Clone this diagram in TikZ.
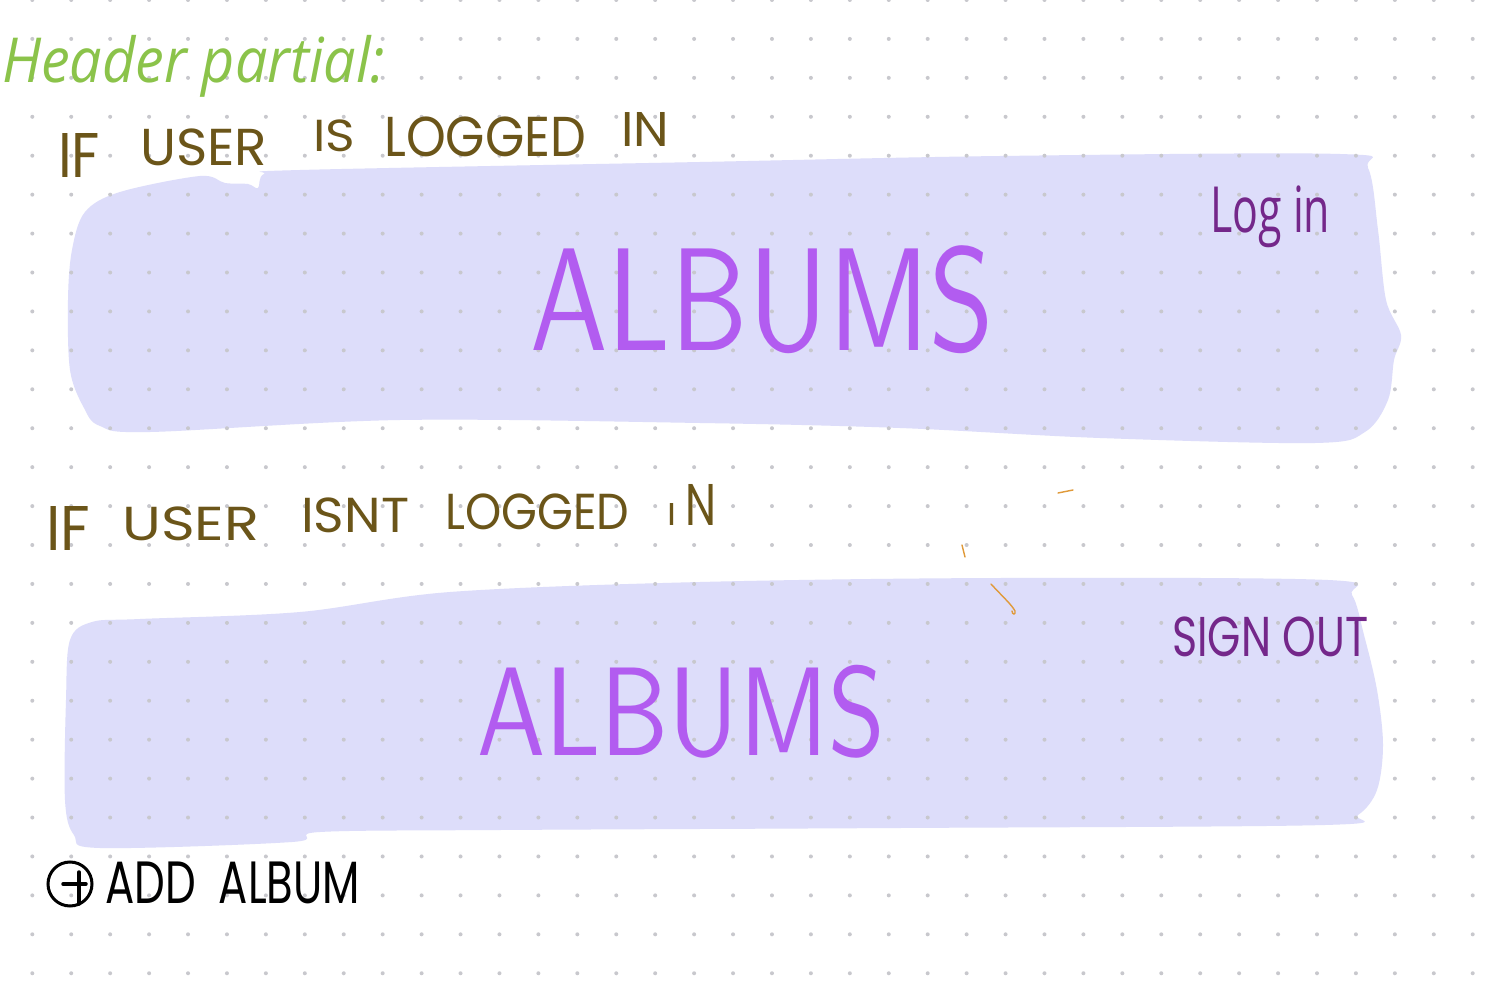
\documentclass[tikz,border=0pt]{standalone}
\usepackage{fontspec}
\usepackage{graphicx}
\newfontfamily\handfont{Poppins}
\newfontfamily\cursivefont{Open Sans}
\definecolor{blob}{RGB}{221,221,250}
\definecolor{griddot}{RGB}{200,200,205}
\definecolor{hdrgreen}{RGB}{139,195,74}
\definecolor{olive}{RGB}{107,85,25}
\definecolor{violet}{RGB}{178,92,240}
\definecolor{plum}{RGB}{116,39,138}
\definecolor{orangestroke}{RGB}{224,154,58}
\newcommand{\fitbox}[3]{\resizebox*{#1}{#2}{#3}}
\tikzset{
  blobfill/.style={fill=blob, draw=none},
  txt/.style={inner sep=0pt, anchor=north west},
  cond/.style={txt, text=olive, font=\handfont},
  orangeline/.style={draw=orangestroke, line width=1.4pt, line cap=round}
}
\begin{document}
\begin{tikzpicture}[x=1pt,y=-1pt]
\useasboundingbox (0,0) rectangle (1497,992);
\fill[white] (0,0) rectangle (1497,992);

% lavender blobs
\fill[blobfill] plot[smooth cycle, tension=0.55] coordinates {
 (68,300) (72,250) (85,212) (120,192) (200,176) (225,183) (248,184) (258,188) (264,174) (300,170)
 (700,162) (1000,156) (1340,154) (1368,168) (1378,230) (1386,300) (1401,335) (1394,360)
 (1388,400) (1365,432) (1315,443) (1100,438) (900,428) (700,423) (400,420) (150,432)
 (100,426) (84,408) (70,370)};
\fill[blobfill] plot[smooth cycle, tension=0.55] coordinates {
 (66,700) (70,640) (92,622) (140,619) (300,612) (450,592) (700,582) (1000,578) (1328,580)
 (1352,595) (1364,635) (1377,690) (1383,745) (1377,790) (1358,815) (1325,825)
 (900,828) (500,830) (320,832) (292,842) (100,848) (74,835) (65,800)};

% dot grid
\foreach \i in {0,...,37}{
  \foreach \j in {0,...,25}{
    \fill[griddot] ({32.3+38.93*\i},{38.93*\j}) circle (2pt);
  }
}

% header
\node[txt, text=hdrgreen] (hdr) at (2,35) {\fitbox{383pt}{62pt}{\cursivefont\itshape Header partial:}};

% condition 1 (word by word, following the hand-drawn baseline)
\node[cond] (c1if) at (58,133) {\fitbox{42pt}{44pt}{IF}};
\node[cond] (c1user) at (140,129) {\fitbox{127pt}{37pt}{USER}};
\node[cond] (c1is) at (313,120) {\fitbox{42pt}{32pt}{IS}};
\node[cond] (c1logged) at (384,117) {\fitbox{202pt}{40pt}{LOGGED}};
\node[cond] (c1in) at (621,112) {\fitbox{48pt}{34pt}{IN}};

\node[txt, text=plum] (login) at (1210,186) {\fitbox{120pt}{62pt}{\cursivefont Log in}};
\node[txt, text=violet] (albums1) at (530,245) {\fitbox{464pt}{108pt}{\sffamily ALBUMS}};

% condition 2
\node[cond] (c2if) at (46,506) {\fitbox{44pt}{44pt}{IF}};
\node[cond] (c2user) at (122,507) {\fitbox{137pt}{34pt}{USER}};
\node[cond] (c2isnt) at (301,498) {\fitbox{108pt}{35pt}{ISNT}};
\node[cond] (c2logged) at (445,494) {\fitbox{184pt}{36pt}{LOGGED}};
\node[cond] (c2i) at (667,503) {\fitbox{9pt}{22pt}{I}};
\node[cond] (c2n) at (685,484) {\fitbox{31pt}{41pt}{N}};

\node[txt, text=violet] (albums2) at (477,665) {\fitbox{408pt}{93pt}{\sffamily ALBUMS}};
\node[txt, text=plum] (signout) at (1172,617) {\fitbox{196pt}{40pt}{\handfont SIGN OUT}};

% add album
\node[circle, draw=black, line width=3pt, minimum size=44pt, inner sep=0pt] (addicon) at (70,884) {};
\draw[black, line width=3.5pt, line cap=round] ([xshift=-7pt]addicon.center) -- ([xshift=16pt]addicon.center);
\draw[black, line width=3.5pt, line cap=round] ([xshift=9pt,yshift=-20pt]addicon.center) -- ([xshift=9pt,yshift=12pt]addicon.center);
\node[txt] (addtext) at (105,862) {\fitbox{255pt}{42pt}{\handfont ADD\ \ ALBUM}};

% stray orange strokes
\draw[orangeline] (1058,493) -- (1073,490);
\draw[orangeline] (962,545) -- (965,557);
\draw[orangeline] (991,584) .. controls (1002,596) and (1012,605) .. (1015,611) .. controls (1016,615) and (1012,615) .. (1012,611);
\end{tikzpicture}
\end{document}
